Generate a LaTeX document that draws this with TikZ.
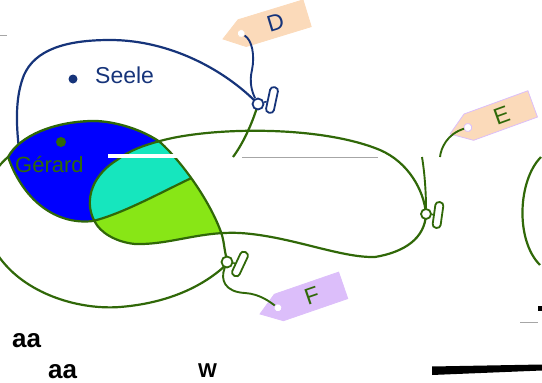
\documentclass[tikz,border=0pt]{standalone}
\usepackage{fontspec}
\setmainfont{Liberation Sans}
\usepackage{tikz}
\usetikzlibrary{positioning}

\definecolor{seeleblue}{RGB}{22,52,122}
\definecolor{balloongreen}{RGB}{48,104,8}
\definecolor{gerardblue}{RGB}{0,0,255}
\definecolor{overlapcyan}{RGB}{22,230,190}
\definecolor{limefill}{RGB}{136,230,22}
\definecolor{tagpeach}{RGB}{251,218,186}
\definecolor{taglilac}{RGB}{220,190,250}

% balloon outlines, used for fills, clips and strokes
\newcommand{\balloonEpath}{(95,222) .. controls (85,205) and (88,178) .. (117,160) .. controls (130,150) and (145,145) .. (160,141) .. controls (210,127) and (320,125) .. (380,150) .. controls (408,162) and (424,190) .. (426,214) .. controls (425,238) and (405,252) .. (375,257) .. controls (340,258) and (290,236) .. (240,233) .. controls (200,231) and (170,245) .. (135,244) .. controls (115,242) and (100,232) .. (95,222) -- cycle}
\newcommand{\balloonFpath}{(227,261) .. controls (224,248) and (224,242) .. (222,235) .. controls (212,205) and (185,165) .. (160,142) .. controls (140,128) and (110,120) .. (90,121) .. controls (55,122) and (20,135) .. (8,157) .. controls (-25,185) and (-20,235) .. (3,262) .. controls (30,295) and (80,310) .. (120,307) .. controls (170,303) and (205,285) .. (227,264) -- cycle}
\newcommand{\gerardlens}{(8,157) .. controls (20,135) and (55,122) .. (90,121) .. controls (110,120) and (140,128) .. (160,142) .. controls (180,160) and (195,170) .. (200,174) .. controls (165,190) and (125,213) .. (93,221) .. controls (60,225) and (25,205) .. (8,157) -- cycle}

\tikzset{
  balloonline/.style={draw=balloongreen, line width=2.2},
  seeleline/.style={draw=seeleblue, line width=2.2},
  stringline/.style={line width=1.9},
  knotring/.style={circle, fill=white, line width=1.8, inner sep=0pt, minimum size=11},
  clipbar/.style={rectangle, rounded corners=3.5, fill=white, line width=1.8, inner sep=0pt, minimum width=8, minimum height=26},
  labeltext/.style={font=\fontsize{23}{23}\selectfont, inner sep=0pt, anchor=base west},
  tagtext/.style={font=\fontsize{23}{23}\selectfont, transform shape},
  pics/luggagetag/.style n args={4}{code={
    \filldraw[fill=#1, draw=#2, line width=0.8] (0,0) -- (20,-14) -- (88,-14) -- (88,14) -- (20,14) -- cycle;
    \coordinate (-hole) at (19,0);
    \filldraw[fill=white, draw=#2, line width=0.8] (-hole) circle (4);
    \node[tagtext, text=#3] (-label) at (55,0) {#4};
  }}
}

\begin{document}
\begin{tikzpicture}[x=1pt, y=-1pt]
    \useasboundingbox (0,0) rectangle (542,383);
    \clip (0,0) rectangle (542,383);

    % Seele balloon
    \coordinate (knotD) at (258,104);
    \coordinate (seeleL) at (20,157);
    \coordinate (seeleR) at (233,157);
    \draw[seeleline] (seeleL) .. controls (15,120) and (16,95) .. (24,75) .. controls (35,50) and (65,40) .. (110,40) .. controls (170,40) and (225,70) .. (knotD);
    \draw[balloonline] (knotD) .. controls (252,125) and (242,145) .. (seeleR);

    % overlapping balloons
    \coordinate (knotE) at (426,214);
    \coordinate (knotF) at (227,262);
    \begin{scope}
        \clip \balloonFpath;
        \fill[gerardblue] \gerardlens;
        \draw[balloonline] \gerardlens;
        \clip \balloonEpath;
        \fill[limefill] \balloonFpath;
        \fill[overlapcyan] \gerardlens;
        \draw[balloonline] \gerardlens;
    \end{scope}
    \draw[balloonline] \balloonFpath;
    \draw[balloonline] \balloonEpath;
    \draw[balloonline] (541,157) .. controls (518,180) and (515,240) .. (540,265);

    % broken strip
    \fill[white] (108,154) rectangle (195,158.3);
    \draw[gray!70, line width=0.9] (242,157) -- (378,157);
    \draw[gray!70, line width=0.9] (0,35) -- (7,35);

    % labels
    \node[circle, fill=seeleblue, inner sep=0pt, minimum size=9] (seeledot) at (73,79) {};
    \node[labeltext, text=seeleblue] (seele) at (95,83) {Seele};
    \node[circle, fill=balloongreen, inner sep=0pt, minimum size=10] (gerarddot) at (61,142) {};
    \begin{scope}
        \clip (0,155.5) rectangle (120,200);
        \node[labeltext, font=\fontsize{22}{22}\selectfont, text=balloongreen] (gerard) at (15,172) {Gérard};
    \end{scope}

    % tags
    \pic[rotate=17] (tagD) at (223,39) {luggagetag={tagpeach}{tagpeach}{seeleblue}{D}};
    \pic[rotate=20] (tagE) at (450,134) {luggagetag={tagpeach}{taglilac}{balloongreen}{E}};
    \pic[rotate=19] (tagF) at (260,314) {luggagetag={taglilac}{taglilac}{balloongreen}{F}};

    % knots
    \node[knotring, draw=seeleblue] (ringD) at (knotD) {};
    \node[clipbar, draw=seeleblue, rotate=-12] (clipD) at (272,100) {};
    \node[knotring, draw=balloongreen, minimum size=10] (ringE) at (knotE) {};
    \node[clipbar, draw=balloongreen, rotate=-8] (clipE) at (438,215) {};
    \node[knotring, draw=balloongreen] (ringF) at (knotF) {};
    \node[clipbar, draw=balloongreen, rotate=-25] (clipF) at (240,264) {};
    \draw[seeleline, line width=1.6] (ringD) -- (clipD);
    \draw[balloonline, line width=1.6] (ringE) -- (clipE);
    \draw[balloonline, line width=1.6] (ringF) -- (clipF);

    % strings
    \coordinate (cutE1) at (440,157);
    \coordinate (cutE2) at (422,157);
    \draw[seeleline, stringline, shorten <=4] (tagD-hole) .. controls (252,40) and (255,55) .. (252,70) .. controls (249,82) and (252,92) .. (ringD);
    \draw[balloonline, stringline, shorten <=4] (tagE-hole) .. controls (447,134) and (441,148) .. (cutE1);
    \draw[balloonline, stringline] (cutE2) .. controls (425,175) and (426,195) .. (ringE);
    \draw[balloonline, stringline, shorten >=4] (ringF) .. controls (220,280) and (225,292) .. (245,293) .. controls (260,294) and (270,302) .. (tagF-hole);

    % bottom marks
    \node[font=\fontsize{26}{26}\selectfont\bfseries, inner sep=0pt, anchor=base west] (aaone) at (12,347) {aa};
    \node[font=\fontsize{26}{26}\selectfont\bfseries, inner sep=0pt, anchor=base west] (aatwo) at (48,378) {aa};
    \node[font=\fontsize{20}{20}\selectfont\bfseries, inner sep=0pt, anchor=base west] (wmark) at (198,377) {W};
    \fill[black] (538,306) rectangle (542,311);
    \draw[gray!70, line width=0.9] (520,322) -- (538,322);
    \fill[black] (432,366.5) -- (542,364.5) -- (542,370.5) -- (432,375) -- cycle;
\end{tikzpicture}
\end{document}
